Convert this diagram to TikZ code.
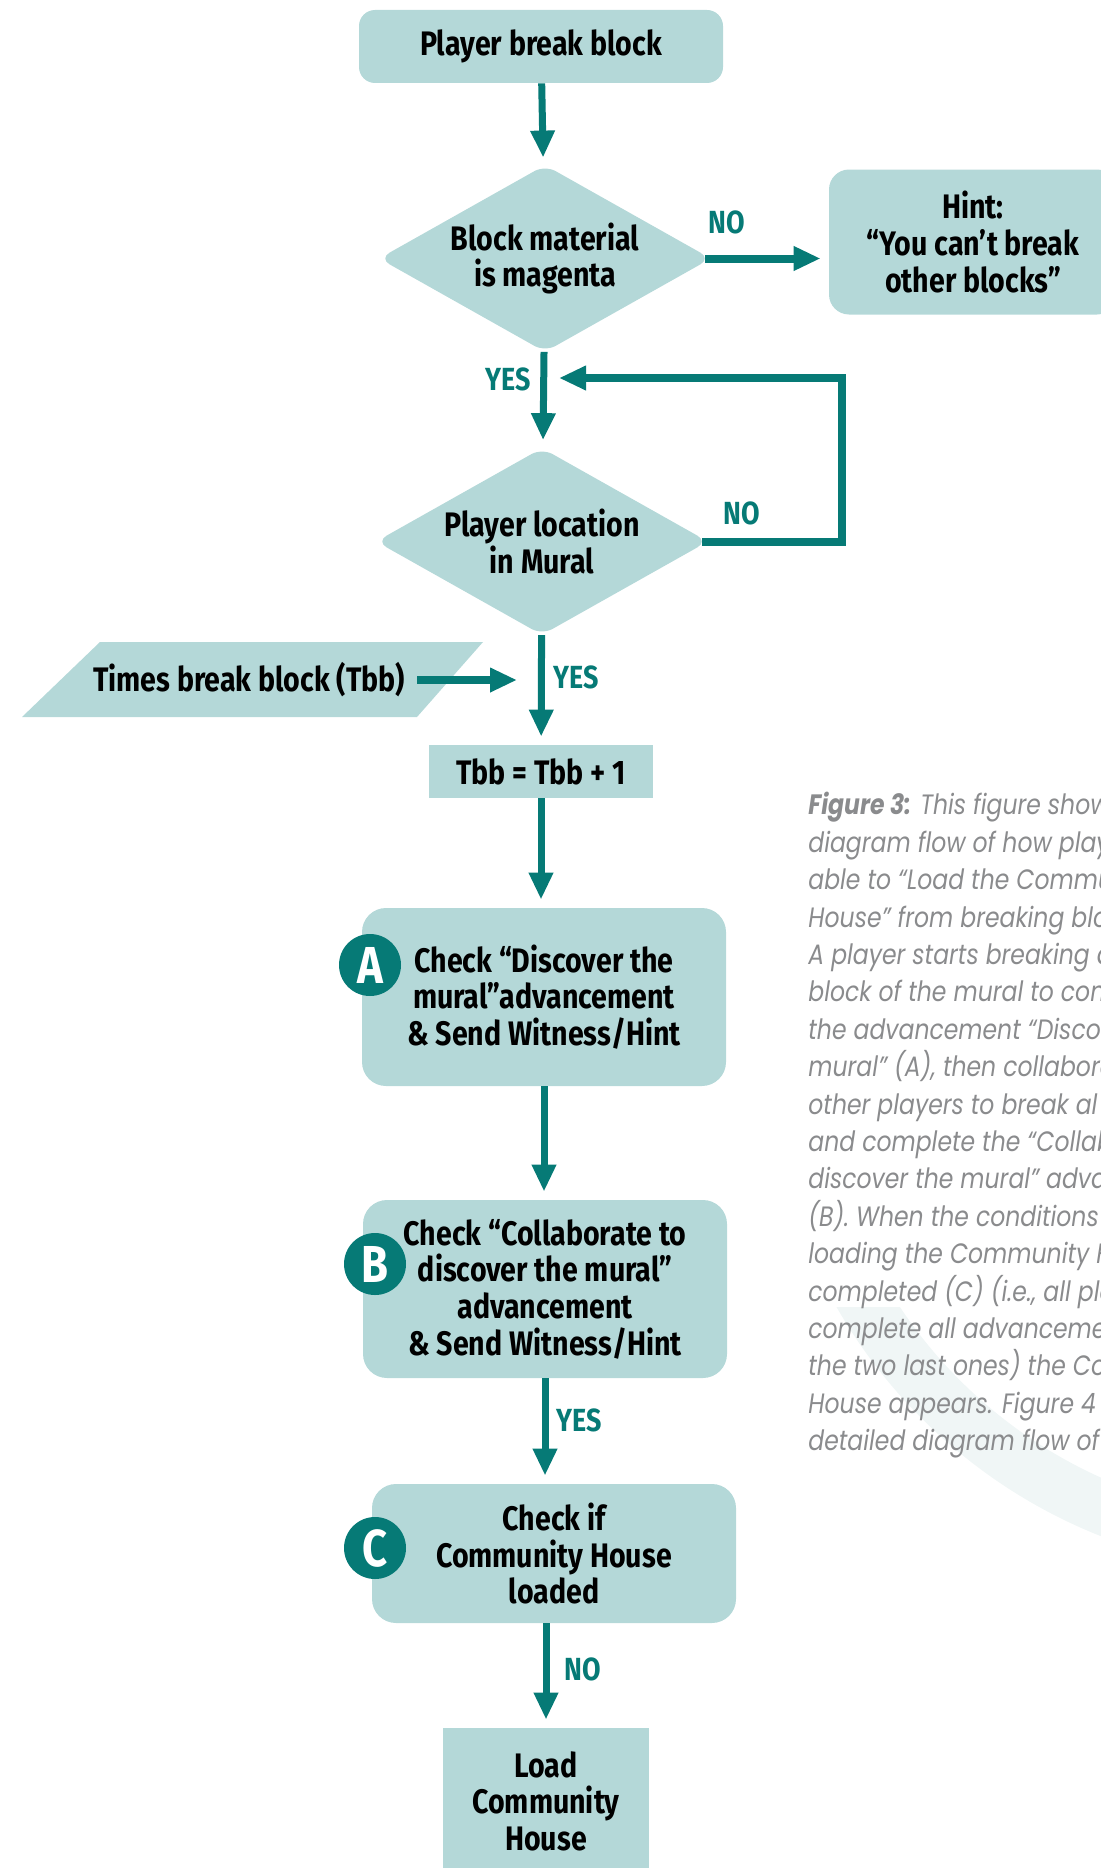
\documentclass[tikz,border=0pt]{standalone}
\usepackage{fontspec}
\usepackage{tikz}
\usetikzlibrary{shapes.geometric, arrows.meta}
\newfontfamily\flowfont[FakeStretch=0.84]{Fira Sans}
\newfontfamily\capfont[FakeStretch=0.84]{Poppins}
\definecolor{boxfill}{HTML}{B4D8D8}
\definecolor{flowteal}{HTML}{067A76}
\definecolor{capgray}{HTML}{8A8B8D}
\definecolor{arcfill}{HTML}{F0F6F6}

\begin{document}
\begin{tikzpicture}[x=0.5pt,y=-0.5pt]
\tikzstyle{txt}=[font=\flowfont\bfseries\fontsize{17}{18.3}\selectfont,align=center,inner sep=0pt]
\tikzstyle{box}=[txt,fill=boxfill,rounded corners=8pt]
\tikzstyle{sqbox}=[txt,fill=boxfill]
\tikzstyle{diam}=[txt,diamond,fill=boxfill,rounded corners=6pt,shape aspect=1.7,minimum width=166pt,minimum height=93.5pt]
\tikzstyle{tag}=[circle,fill=flowteal,text=white,minimum size=31pt,inner sep=0pt,font=\flowfont\bfseries\fontsize{26}{26}\selectfont]
\tikzstyle{lbl}=[text=flowteal,inner sep=0pt,font=\flowfont\bfseries\fontsize{16}{16}\selectfont]
\tikzstyle{flow}=[draw=flowteal,line width=3.5pt,-{Triangle[length=13.5pt,width=11.5pt]},shorten >=4pt]
\tikzstyle{capnode}=[text=capgray,align=left,inner sep=0pt,font=\capfont\itshape\fontsize{14}{18.7}\selectfont]
\path[use as bounding box] (0,0) rectangle (1101,1868);
\clip (0,0) rectangle (1101,1868);
% background arc behind the caption
\begin{scope}
\clip (700,1307) rectangle (1101,1868);
\fill[arcfill,even odd rule] (1295,1045) circle (528) (1295,1045) circle (474);
\end{scope}
\node[capnode,anchor=north west] (cap) at (808,792) {\textbf{Figure 3:} This figure show\\
diagram flow of how play\\
able to “Load the Commu\\
House” from breaking blo\\
A player starts breaking a\\
block of the mural to con\\
the advancement “Discov\\
mural” (A), then collabora\\
other players to break al\\
and complete the “Collab\\
discover the mural” adva\\
(B). When the conditions\\
loading the Community H\\
completed (C) (i.e., all pla\\
complete all advanceme\\
the two last ones) the Co\\
House appears. Figure 4\\
detailed diagram flow of};
% flow chart
\node[box,minimum width=182pt,minimum height=36.5pt] (box_0) at (541,46.5) {Player break block};
\node[diam] (dia_1) at (545,258.5) {Block material\\is magenta};
\node[box,rounded corners=10pt,minimum width=144pt,minimum height=72.5pt] (hint) at (973,242) {Hint:\\“You can’t break\\other blocks”};
\node[diam] (dia_2) at (542,541.5) {Player location\\in Mural};
\fill[boxfill] (100,642) -- (483,642) -- (417,717) -- (22,717) -- cycle;
\node[txt] (inp) at (249,680) {Times break block (Tbb)};
\coordinate (tbb_in) at (517,680);
\node[sqbox,minimum width=112pt,minimum height=26.5pt] (tbb) at (541,771.5) {Tbb = Tbb + 1};
\node[box,rounded corners=12pt,minimum width=182pt,minimum height=89pt] (box_A) at (544,997) {Check “Discover the\\mural”advancement\\\& Send Witness/Hint};
\node[box,rounded corners=12pt,minimum width=182pt,minimum height=89pt] (box_B) at (545,1289) {Check “Collaborate to\\discover the mural”\\advancement\\\& Send Witness/Hint};
\node[box,rounded corners=12pt,minimum width=182pt,minimum height=69.5pt] (box_C) at (554,1553.5) {Check if\\Community House\\loaded};
\node[sqbox,minimum width=103pt,minimum height=73pt] (load) at (546,1801) {Load\\Community\\House};
\node[tag] (tag_A) at (370,965) {A};
\node[tag] (tag_B) at (375,1264) {B};
\node[tag] (tag_C) at (375,1548) {C};
\coordinate (loop_in) at (559,378);
\draw[flow] (box_0) -- (dia_1);
\draw[flow,line width=4pt] ([xshift=-3pt]dia_1.east) -- (dia_1.east -| hint.west);
\draw[flow] (dia_1) -- (dia_2);
\draw[flow,line width=4pt,shorten >=0pt] ([xshift=-3pt]dia_2.east) -- ++(140,0) |- (loop_in);
\draw[flow,line width=4pt,shorten >=0pt] ([xshift=6pt]inp.east) -- (tbb_in);
\draw[flow] (dia_2) -- (tbb);
\draw[flow] (tbb) -- (tbb |- box_A.north);
\draw[flow] (box_A) -- (box_A |- box_B.north);
\draw[flow] (box_B.south) -- (box_B.south |- box_C.north);
\draw[flow] (load.north |- box_C.south) -- (load.north);
\node[lbl] (no_1) at (727,222) {NO};
\node[lbl] (yes_1) at (508,379) {YES};
\node[lbl] (no_2) at (742,513) {NO};
\node[lbl] (yes_2) at (576,677) {YES};
\node[lbl] (yes_3) at (579,1420) {YES};
\node[lbl] (no_3) at (583,1669) {NO};
\end{tikzpicture}
\end{document}
